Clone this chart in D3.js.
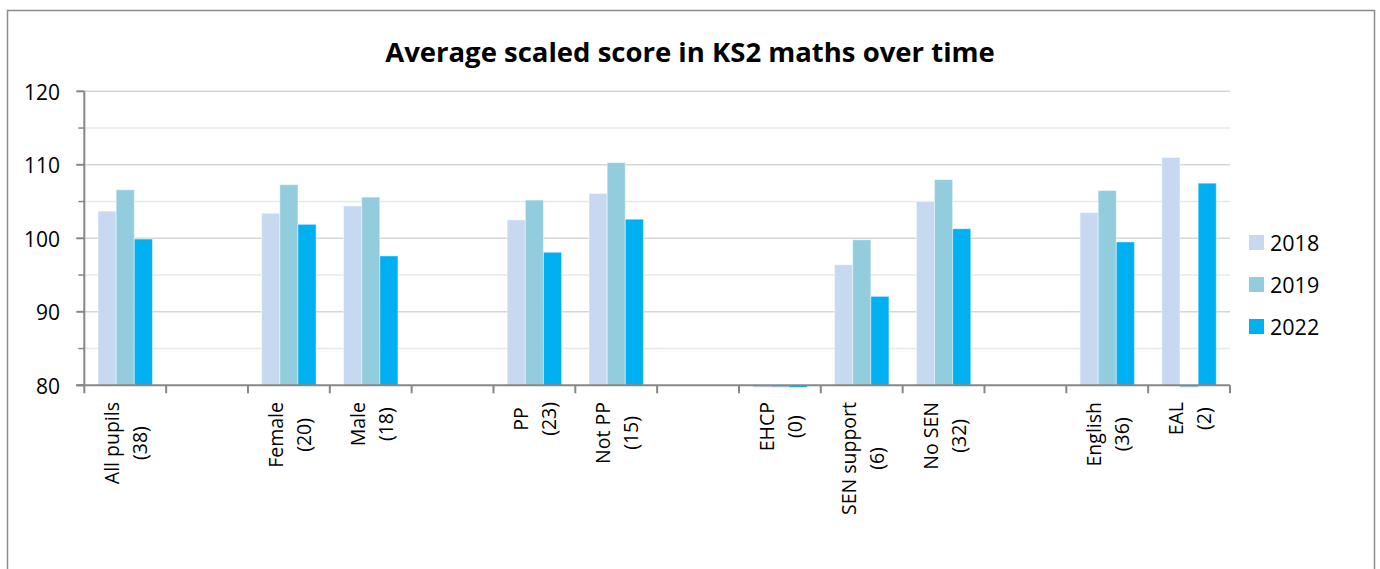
<!DOCTYPE html>
<html>
<head>
<meta charset="utf-8">
<script src="https://cdn.jsdelivr.net/npm/d3@7"></script>
<style>
  html, body { margin: 0; padding: 0; background: #ffffff; }
  svg { display: block; font-family: "Open Sans", "Noto Sans", sans-serif; }
</style>
</head>
<body>
<svg id="chart" width="1380" height="569"></svg>
<script>
// Pupil groups (two-line axis labels); empty slots separate the groupings
const categoryLines = [
  ["All pupils", "(38)"],
  ["", ""],
  ["Female", "(20)"],
  ["Male", "(18)"],
  ["", ""],
  ["PP", "(23)"],
  ["Not PP", "(15)"],
  ["", ""],
  ["EHCP", "(0)"],
  ["SEN support", "(6)"],
  ["No SEN", "(32)"],
  ["", ""],
  ["English", "(36)"],
  ["EAL", "(2)"]
];

const years = ["2018", "2019", "2022"];

// Average scaled scores per group (null = spacer slot, 0 = no pupils)
const scores2018 = [103.7, null, 103.4, 104.4, null, 102.5, 106.1, null, 0, 96.4, 105.0, null, 103.5, 111.0];
const scores2019 = [106.6, null, 107.3, 105.6, null, 105.2, 110.3, null, 0, 99.8, 108.0, null, 106.5, 0];
const scores2022 = [99.9, null, 101.9, 97.6, null, 98.1, 102.6, null, 0, 92.1, 101.3, null, 99.5, 107.5];

const yMajorTicks = [80, 90, 100, 110, 120];
const yMinorTicks = [85, 95, 105, 115];

const seriesValues = [scores2018, scores2019, scores2022];
const colors = ["#c6d9f1", "#93cddd", "#00b0f0"];

const svg = d3.select("#chart");

// Outer chart frame
svg.append("rect")
  .attr("x", 7.5).attr("y", 10.5)
  .attr("width", 1367).attr("height", 600)
  .attr("fill", "#ffffff")
  .attr("stroke", "#8c8c8c")
  .attr("stroke-width", 1.5);

svg.append("text")
  .attr("x", 690).attr("y", 62)
  .attr("text-anchor", "middle")
  .attr("font-weight", "bold")
  .attr("font-size", 27.5)
  .attr("fill", "#000")
  .text("Average scaled score in KS2 maths over time");

const plot = { left: 84.3, right: 1230, top: 91.3, bottom: 385.3 };

const x0 = d3.scaleBand()
  .domain(d3.range(categoryLines.length))
  .range([plot.left, plot.right])
  .paddingInner(0).paddingOuter(0);

const x1 = d3.scaleBand()
  .domain(years)
  .range([0, x0.bandwidth()])
  .paddingInner(0)
  .paddingOuter(0.756);

const y = d3.scaleLinear().domain([80, 120]).range([plot.bottom, plot.top]);

// Gridlines
svg.append("g").selectAll("line").data(yMinorTicks).join("line")
  .attr("x1", plot.left).attr("x2", plot.right)
  .attr("y1", d => y(d)).attr("y2", d => y(d))
  .attr("stroke", "#e8e8e8").attr("stroke-width", 1.5);
svg.append("g").selectAll("line").data(yMajorTicks.filter(d => d > 80)).join("line")
  .attr("x1", plot.left).attr("x2", plot.right)
  .attr("y1", d => y(d)).attr("y2", d => y(d))
  .attr("stroke", "#d6d6d6").attr("stroke-width", 1.5);

// Bars are clipped just below the baseline, so empty groups show a sliver
svg.append("defs").append("clipPath").attr("id", "plotClip")
  .append("rect")
  .attr("x", plot.left).attr("y", plot.top - 20)
  .attr("width", plot.right - plot.left)
  .attr("height", plot.bottom - plot.top + 22);

const barLayer = svg.append("g").attr("clip-path", "url(#plotClip)");

years.forEach((yr, si) => {
  const rows = seriesValues[si]
    .map((v, i) => ({ i, v }))
    .filter(d => d.v !== null);
  barLayer.append("g").selectAll("rect").data(rows).join("rect")
    .attr("x", d => x0(d.i) + x1(yr))
    .attr("width", x1.bandwidth())
    .attr("y", d => Math.min(y(d.v), y(80)))
    .attr("height", d => Math.abs(y(80) - y(d.v)))
    .attr("fill", colors[si])
    .attr("stroke", "rgba(255,255,255,0.45)")
    .attr("stroke-width", 1);
});

// Y axis
const axisColor = "#878787";
const yAxis = svg.append("g");
yAxis.append("line")
  .attr("x1", plot.left).attr("x2", plot.left)
  .attr("y1", plot.top).attr("y2", plot.bottom)
  .attr("stroke", axisColor).attr("stroke-width", 2);
yAxis.selectAll("line.major").data(yMajorTicks).join("line").attr("class", "major")
  .attr("x1", plot.left - 8).attr("x2", plot.left)
  .attr("y1", d => y(d)).attr("y2", d => y(d))
  .attr("stroke", axisColor).attr("stroke-width", 2);
yAxis.selectAll("line.minor").data(yMinorTicks).join("line").attr("class", "minor")
  .attr("x1", plot.left - 6).attr("x2", plot.left)
  .attr("y1", d => y(d)).attr("y2", d => y(d))
  .attr("stroke", axisColor).attr("stroke-width", 1.5);
yAxis.selectAll("text").data(yMajorTicks).join("text")
  .attr("x", 60).attr("y", d => y(d) + 8.5)
  .attr("text-anchor", "end")
  .attr("font-size", 21)
  .attr("fill", "#000")
  .text(d => d);

// X axis with category boundary ticks
const xAxis = svg.append("g");
xAxis.append("line")
  .attr("x1", plot.left - 8).attr("x2", plot.right)
  .attr("y1", plot.bottom).attr("y2", plot.bottom)
  .attr("stroke", axisColor).attr("stroke-width", 2);
const boundaries = d3.range(categoryLines.length + 1).map(i => plot.left + i * x0.step());
xAxis.selectAll("line.tick").data(boundaries).join("line").attr("class", "tick")
  .attr("x1", d => d).attr("x2", d => d)
  .attr("y1", plot.bottom).attr("y2", plot.bottom + 8)
  .attr("stroke", axisColor).attr("stroke-width", 2);

// Rotated two-line category labels, centred lines hanging from the axis
const labelTop = 402;
const labelSize = 19.5;
categoryLines.forEach((lines, i) => {
  if (!lines[0]) return;
  const cx = x0(i) + x0.bandwidth() / 2;
  const g = xAxis.append("g");
  const t = g.append("text")
    .attr("font-size", labelSize)
    .attr("fill", "#000")
    .attr("text-anchor", "middle");
  // local y maps to screen x after rotation
  const spans = lines.map((ln, k) => t.append("tspan")
    .attr("x", 0).attr("y", k === 0 ? -6 : 22)
    .text(ln));
  const maxLen = d3.max(spans, s => s.node().getComputedTextLength());
  g.attr("transform", `translate(${cx},${labelTop + maxLen / 2}) rotate(-90)`);
});

// Legend
const legend = svg.append("g");
years.forEach((yr, si) => {
  const ly = 235 + si * 42;
  legend.append("rect")
    .attr("x", 1249).attr("y", ly)
    .attr("width", 15).attr("height", 15)
    .attr("fill", colors[si]);
  legend.append("text")
    .attr("x", 1270).attr("y", ly + 15.5)
    .attr("font-size", 21.5)
    .attr("fill", "#000")
    .text(yr);
});
</script>
</body>
</html>
